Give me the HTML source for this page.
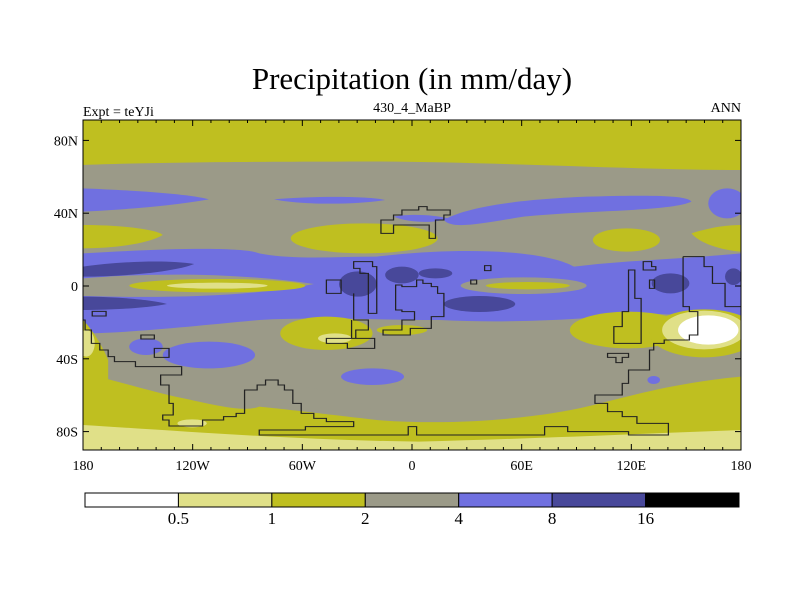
<!DOCTYPE html>
<html><head><meta charset="utf-8"><style>
body{margin:0;background:#fff;}
svg{display:block;font-family:"Liberation Serif",serif;}
</style></head><body>
<svg width="800" height="600">
<text x="412" y="89" font-size="31" text-anchor="middle">Precipitation (in mm/day)</text>
<text x="83" y="116" font-size="14">Expt = teYJi</text>
<text x="412" y="112" font-size="14" text-anchor="middle">430_4_MaBP</text>
<text x="741" y="112" font-size="14" text-anchor="end">ANN</text>

<svg x="83" y="120" width="658" height="330" viewBox="0 0 1568 990" preserveAspectRatio="none">
<rect width="1568" height="990" fill="#9b9a88"/>
<g fill="#bfbf20">
<path d="M0,0H1568V150C1300,150 900,120 600,125C300,125 100,130 0,135Z"/>
<path d="M0,315C100,315 180,330 190,345C150,375 60,385 0,385Z"/>
<ellipse cx="670" cy="355" rx="175" ry="45"/>
<ellipse cx="1295" cy="360" rx="80" ry="35"/>
<path d="M1450,340C1500,320 1540,315 1568,315V395C1520,390 1470,370 1450,340Z"/>
</g>
<g fill="#7070e0">
<path d="M0,205C100,210 250,220 300,238C200,260 80,270 0,275Z"/>
<path d="M455,238C550,228 680,228 720,240C650,255 520,255 455,238Z"/>
<path d="M860,300C900,270 1000,240 1200,230C1350,225 1440,225 1450,245C1400,275 1200,270 1050,290C950,310 880,330 860,300Z"/>
<path d="M740,290C780,280 840,285 870,295C840,310 780,310 740,290Z"/>
<ellipse cx="1535" cy="250" rx="45" ry="45"/>
<path d="M0,400C200,385 380,380 420,400C500,420 600,410 700,410C900,380 1100,390 1170,440C1300,420 1400,420 1568,400V600C1450,590 1350,570 1250,590C1150,600 1000,610 850,600C700,600 550,590 420,600C250,620 100,640 0,640Z"/>
<ellipse cx="300" cy="705" rx="110" ry="40"/>
<ellipse cx="150" cy="680" rx="40" ry="25"/>
<ellipse cx="690" cy="770" rx="75" ry="25"/>
<ellipse cx="1360" cy="780" rx="15" ry="12"/>
</g>
<g>
<path fill="#9b9a88" d="M0,475C150,460 350,455 550,492C400,530 200,535 0,528Z"/>
<ellipse fill="#bfbf20" cx="320" cy="497" rx="210" ry="20"/>
<ellipse fill="#e0e088" cx="320" cy="497" rx="120" ry="9"/>
<ellipse fill="#9b9a88" cx="1050" cy="497" rx="150" ry="25"/>
<ellipse fill="#bfbf20" cx="1060" cy="497" rx="100" ry="11"/>
</g>
<g fill="#48489a">
<path d="M0,440C80,425 200,418 265,432C220,455 100,470 0,470Z"/>
<path d="M0,530C80,530 170,540 200,552C150,565 60,570 0,570Z"/>
<ellipse cx="945" cy="552" rx="85" ry="24"/>
<ellipse cx="655" cy="492" rx="45" ry="38"/>
<ellipse cx="760" cy="465" rx="40" ry="25"/>
<ellipse cx="840" cy="460" rx="40" ry="15"/>
<ellipse cx="1400" cy="490" rx="45" ry="30"/>
<ellipse cx="1550" cy="470" rx="20" ry="25"/>
</g>
<g>
<ellipse fill="#bfbf20" cx="580" cy="640" rx="110" ry="50"/>
<ellipse fill="#e0e088" cx="600" cy="655" rx="40" ry="15"/>
<ellipse fill="#bfbf20" cx="760" cy="630" rx="60" ry="15"/>
<ellipse fill="#bfbf20" cx="1300" cy="630" rx="140" ry="55"/>
<ellipse fill="#bfbf20" cx="1480" cy="640" rx="130" ry="72"/>
<ellipse fill="#e0e088" cx="1480" cy="630" rx="100" ry="58"/>
<ellipse fill="#ffffff" cx="1490" cy="630" rx="72" ry="44"/>
<path fill="#bfbf20" d="M0,600C30,640 50,690 60,720V790H0Z"/>
<ellipse fill="#e0e088" cx="8" cy="670" rx="20" ry="40"/>
<path fill="#bfbf20" d="M0,760C60,775 120,800 220,830C300,850 380,880 420,860C500,870 560,880 700,900C900,920 1100,890 1200,860C1300,830 1400,790 1568,770V990H0Z"/>
<path fill="#9b9a88" d="M450,800C550,790 650,830 700,880C600,880 520,860 450,800Z"/>
<path fill="#e0e088" d="M0,915C200,930 500,960 800,965C1100,955 1350,940 1568,930V990H0Z"/>
<ellipse fill="#e0e088" cx="260" cy="910" rx="35" ry="12"/>
</g>
<g fill="none" stroke="#222" stroke-width="3">
<path d="M710,300V340H740V315H825V355H840V300H860V285H875V270H820V260H800V270H760V285H740V300Z"/>
<path d="M645,425V445H660V460H680V580H700V440H690V425Z"/>
<path d="M645,520V600H680V630H650V655H580V670H630V685H695V655H640V600"/>
<path d="M745,495V570H760V575H790V600H760V630H715V645H780V625H830V590H860V520H845V500H830V490H810V480H795V500H760V495Z"/>
<path d="M580,480H615V520H580Z"/>
<path d="M1300,450V575H1285V620H1265V670H1330V535H1315V450Z"/>
<path d="M1335,425V450H1365V440H1355V425Z"/>
<path d="M1430,410H1480V440H1500V490H1530V560H1568"/>
<path d="M1430,410V560H1445V575H1465V645H1445V660H1385V670H1360V690H1350V750H1300V790H1285V825H1220V850H1250V875H1285V890H1320V910H1395V945H1300V935H1155V920H1100V945H795V920H775V945H420V930H530V920H645V905H580V895H550V880H520V850H500V810H480V795H465V780H435V795H415V810H385V880H365V890H335V900H285V918H205V900H190V885H215V850H205V795H185V765H235V740H125V725H75V710H60V690H40V670H20V630H5V600H0"/>
<path d="M1250,700H1300V712H1285V728H1270V712H1250Z"/>
<path d="M138,645H170V657H138Z"/>
<path d="M170,685H205V712H170Z"/>
<path d="M22,574H55V588H22Z"/>
<path d="M1350,480H1362V505H1350Z"/>
<path d="M957,437H972V452H957Z"/>
<path d="M924,480H938V492H924Z"/>
</g>
</svg>
<rect x="83" y="120" width="658" height="330" fill="none" stroke="#000" stroke-width="1"/>
<g id="axes" font-size="14"></g>
<g id="colorbar"></g>
</svg>
<script>
const latLabels = ["80N","40N","0","40S","80S"];
const latValues = [80,40,0,-40,-80];
const lonLabels = ["180","120W","60W","0","60E","120E","180"];
const lonValues = [-180,-120,-60,0,60,120,180];
const cbLevels = ["0.5","1","2","4","8","16"];
const cbColors = ["#ffffff","#e0e088","#bfbf20","#9b9a88","#7070e0","#48489a","#000000"];
const NS="http://www.w3.org/2000/svg";
const x0=83,x1=741,y0=120,y1=450;
const lonX=l=>x0+(l+180)/360*(x1-x0);
const latY=l=>286-l*1.82;
function mk(tag,attrs,parent,txt){const e=document.createElementNS(NS,tag);for(const k in attrs)e.setAttribute(k,attrs[k]);if(txt!==undefined)e.textContent=txt;parent.appendChild(e);return e;}
const ax=document.getElementById('axes');
latValues.forEach((v,i)=>{const y=latY(v);
 const t=mk('line',{x1:x0,x2:x0+6,y1:y,y2:y,stroke:'#000'},ax);
 
 
 const t2=mk('line',{x1:x1-6,x2:x1,y1:y,y2:y,stroke:'#000'},ax);
 
 
 const lb=mk('text',{x:x0-5,y:y+5,'text-anchor':'end'},ax,latLabels[i]);
 
 
});
for(let l=-180;l<=180;l+=10){const x=lonX(l);const big=l%60===0;
 const t=mk('line',{x1:x,x2:x,y1:y1,y2:y1-(big?6:3),stroke:'#000'},ax);
 
 
 const t2=mk('line',{x1:x,x2:x,y1:y0,y2:y0+(big?6:3),stroke:'#000'},ax);
 
 }
lonValues.forEach((v,i)=>{const lb=mk('text',{x:lonX(v),y:470,'text-anchor':'middle'},ax,lonLabels[i]);
 
 });
const cb=document.getElementById('colorbar');
const cx0=85,cx1=739,w=(cx1-cx0)/cbColors.length;
cbColors.forEach((c,i)=>{const r=mk('rect',{x:cx0+i*w,y:493,width:w,height:14,fill:c,stroke:'#000','stroke-width':1},cb);
 
 });
cbLevels.forEach((s,i)=>{const t=mk('text',{x:cx0+(i+1)*w,y:524,'text-anchor':'middle','font-size':17},cb,s);
 
 });
</script>
</body></html>
